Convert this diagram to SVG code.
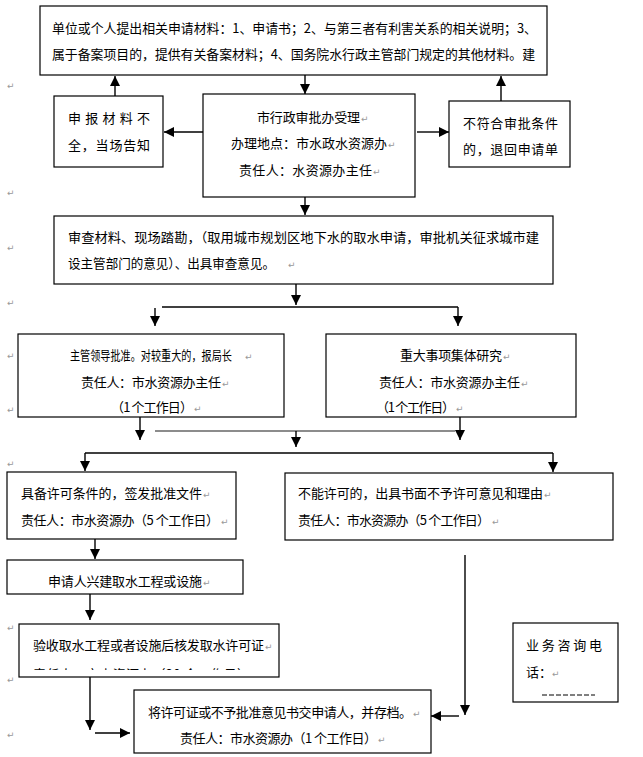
<svg xmlns="http://www.w3.org/2000/svg" width="643" height="757" viewBox="0 0 643 757">
<style>
.bx{fill:#fff;stroke:#000;stroke-width:1.2}
.t{font-family:"Noto Sans CJK SC","Liberation Sans",sans-serif;font-size:13px;fill:#000}
.rm{font-family:"DejaVu Sans",sans-serif;font-size:9px;fill:#999}
.ln{stroke:#000;stroke-width:1.4;fill:none}
.ar{stroke:#000;stroke-width:1.4;fill:none;marker-end:url(#ah)}
</style>
<defs>
<marker id="ah" markerUnits="userSpaceOnUse" markerWidth="10" markerHeight="10" viewBox="0 0 10 10" refX="10" refY="5" orient="auto">
<path d="M0,0 L10,5 L0,10 Z" fill="#000"/>
</marker>
<clipPath id="c1"><rect x="19" y="624" width="260" height="46"/></clipPath>
</defs>
<rect width="643" height="757" fill="#fff"/>

<g id="marks">
<text class="rm" x="7" y="89">↵</text>
<text class="rm" x="7" y="196">↵</text>
<text class="rm" x="7" y="251">↵</text>
<text class="rm" x="7" y="306">↵</text>
<text class="rm" x="7" y="359">↵</text>
<text class="rm" x="7" y="413">↵</text>
<text class="rm" x="7" y="467">↵</text>
<text class="rm" x="7" y="631">↵</text>
<text class="rm" x="7" y="683">↵</text>
<text class="rm" x="7" y="738">↵</text>
</g>

<g id="connectors">
<line class="ar" x1="305" y1="75" x2="305" y2="94"/>
<line class="ar" x1="115" y1="96" x2="115" y2="76"/>
<line class="ar" x1="203" y1="132" x2="164" y2="132"/>
<line class="ar" x1="417" y1="132" x2="449" y2="132"/>
<line class="ar" x1="501" y1="101" x2="501" y2="76"/>
<line class="ar" x1="305" y1="197" x2="305" y2="215"/>
<line class="ar" x1="296" y1="284" x2="296" y2="305"/>
<line class="ln" x1="162" y1="307" x2="458" y2="307"/>
<line class="ar" x1="155" y1="308" x2="155" y2="326"/>
<line class="ar" x1="458" y1="307" x2="458" y2="326"/>
<line class="ar" x1="140" y1="417" x2="140" y2="440"/>
<line class="ar" x1="460" y1="417" x2="460" y2="440"/>
<line x1="155" y1="431" x2="455" y2="431" stroke="#666" stroke-width="1.4"/>
<line class="ar" x1="296" y1="431" x2="296" y2="447"/>
<line class="ln" x1="85" y1="453" x2="553" y2="453"/>
<line class="ar" x1="85" y1="453" x2="85" y2="471"/>
<line class="ar" x1="553" y1="453" x2="553" y2="472"/>
<line class="ar" x1="95" y1="539" x2="95" y2="559"/>
<line class="ar" x1="465" y1="555" x2="465" y2="715"/>
<line class="ar" x1="459" y1="716" x2="431" y2="716"/>
<line class="ar" x1="90" y1="594" x2="90" y2="620"/>
<line class="ar" x1="90" y1="677" x2="90" y2="730"/>
<line class="ar" x1="95" y1="733" x2="130" y2="733"/>
</g>

<g id="n_apply">
<rect class="bx" x="40" y="6" width="507" height="69"/>
<text class="t" x="52" y="33" textLength="485" lengthAdjust="spacingAndGlyphs">单位或个人提出相关申请材料：1、申请书；2、与第三者有利害关系的相关说明；3、</text>
<text class="t" x="52" y="59" textLength="483" lengthAdjust="spacingAndGlyphs">属于备案项目的，提供有关备案材料；4、国务院水行政主管部门规定的其他材料。建</text>
</g>

<g id="n_incomplete">
<rect class="bx" x="54" y="96" width="109" height="71"/>
<text class="t" x="68" y="123" textLength="82" lengthAdjust="spacing">申报材料不</text>
<text class="t" x="68" y="150" textLength="82" lengthAdjust="spacing">全，当场告知</text>
</g>

<g id="n_accept">
<rect class="bx" x="203" y="94" width="212" height="103"/>
<text class="t" x="257" y="122" textLength="103" lengthAdjust="spacing">市行政审批办受理</text>
<text class="rm" x="361" y="122">↵</text>
<text class="t" x="231" y="148" textLength="156" lengthAdjust="spacing">办理地点：市水政水资源办</text>
<text class="rm" x="388" y="148">↵</text>
<text class="t" x="239" y="175" textLength="133" lengthAdjust="spacing">责任人：水资源办主任</text>
<text class="rm" x="373" y="175">↵</text>
</g>

<g id="n_reject">
<rect class="bx" x="449" y="101" width="121" height="66"/>
<text class="t" x="463" y="128" textLength="95" lengthAdjust="spacing">不符合审批条件</text>
<text class="t" x="463" y="154" textLength="95" lengthAdjust="spacing">的，退回申请单</text>
</g>

<g id="n_review">
<rect class="bx" x="54" y="216" width="499" height="68"/>
<text class="t" x="68" y="242" textLength="471" lengthAdjust="spacingAndGlyphs">审查材料、现场踏勘，（取用城市规划区地下水的取水申请，审批机关征求城市建</text>
<text class="t" x="68" y="268" textLength="207" lengthAdjust="spacingAndGlyphs">设主管部门的意见）、出具审查意见。</text>
<text class="rm" x="288" y="268">↵</text>
</g>

<g id="n_leader">
<rect class="bx" x="18" y="334" width="266" height="83"/>
<text class="t" x="70" y="360" textLength="162" lengthAdjust="spacingAndGlyphs">主管领导批准。对较重大的，报局长</text>
<text class="rm" x="245" y="360">↵</text>
<text class="t" x="81" y="387" textLength="140" lengthAdjust="spacing">责任人：市水资源办主任</text>
<text class="rm" x="222" y="387">↵</text>
<text class="t" x="111" y="412" textLength="82" lengthAdjust="spacing">（1 个工作日）</text>
<text class="rm" x="194" y="412">↵</text>
</g>

<g id="n_collective">
<rect class="bx" x="326" y="334" width="250" height="83"/>
<text class="t" x="400" y="360" textLength="102" lengthAdjust="spacing">重大事项集体研究</text>
<text class="rm" x="503" y="360">↵</text>
<text class="t" x="379" y="387" textLength="141" lengthAdjust="spacing">责任人：市水资源办主任</text>
<text class="rm" x="521" y="387">↵</text>
<text class="t" x="376" y="412" textLength="79" lengthAdjust="spacing">（1 个工作日）</text>
<text class="rm" x="456" y="412">↵</text>
</g>

<g id="n_approve">
<rect class="bx" x="7" y="472" width="229" height="67"/>
<text class="t" x="21" y="498" textLength="181" lengthAdjust="spacing">具备许可条件的，签发批准文件</text>
<text class="rm" x="203" y="498">↵</text>
<text class="t" x="21" y="525" textLength="198" lengthAdjust="spacing">责任人：市水资源办（5 个工作日）</text>
<text class="rm" x="221" y="525">↵</text>
</g>

<g id="n_deny">
<rect class="bx" x="285" y="473" width="328" height="67"/>
<text class="t" x="298" y="498" textLength="245" lengthAdjust="spacing">不能许可的，出具书面不予许可意见和理由</text>
<text class="rm" x="544" y="498">↵</text>
<text class="t" x="298" y="525" textLength="192" lengthAdjust="spacing">责任人：市水资源办（5 个工作日）</text>
<text class="rm" x="492" y="525">↵</text>
</g>

<g id="n_build">
<rect class="bx" x="7" y="560" width="236" height="34"/>
<text class="t" x="48" y="586" textLength="154" lengthAdjust="spacing">申请人兴建取水工程或设施</text>
<text class="rm" x="203" y="586">↵</text>
</g>

<g id="n_check">
<rect class="bx" x="19" y="624" width="260" height="53"/>
<text class="t" x="33" y="650" textLength="231" lengthAdjust="spacing">验收取水工程或者设施后核发取水许可证</text>
<text class="rm" x="265" y="650">↵</text>
<text class="t" x="33" y="679" textLength="217" lengthAdjust="spacing" clip-path="url(#c1)">责任人：市水资源办（20 个工作日）</text>
</g>

<g id="n_deliver">
<rect class="bx" x="134" y="690" width="297" height="63"/>
<text class="t" x="148" y="717" textLength="264" lengthAdjust="spacing">将许可证或不予批准意见书交申请人，并存档。</text>
<text class="rm" x="413" y="717">↵</text>
<text class="t" x="180" y="743" textLength="197" lengthAdjust="spacing">责任人：市水资源办（1 个工作日）</text>
<text class="rm" x="378" y="743">↵</text>
</g>

<g id="n_phone">
<rect class="bx" x="513" y="623" width="105" height="79"/>
<text class="t" x="526" y="650" textLength="76" lengthAdjust="spacing">业务咨询电</text>
<text class="t" x="526" y="677">话：</text>
<text class="rm" x="552" y="677">↵</text>
<line x1="542" y1="695" x2="595" y2="695" stroke="#000" stroke-width="1" stroke-dasharray="5,2"/>
</g>
</svg>
